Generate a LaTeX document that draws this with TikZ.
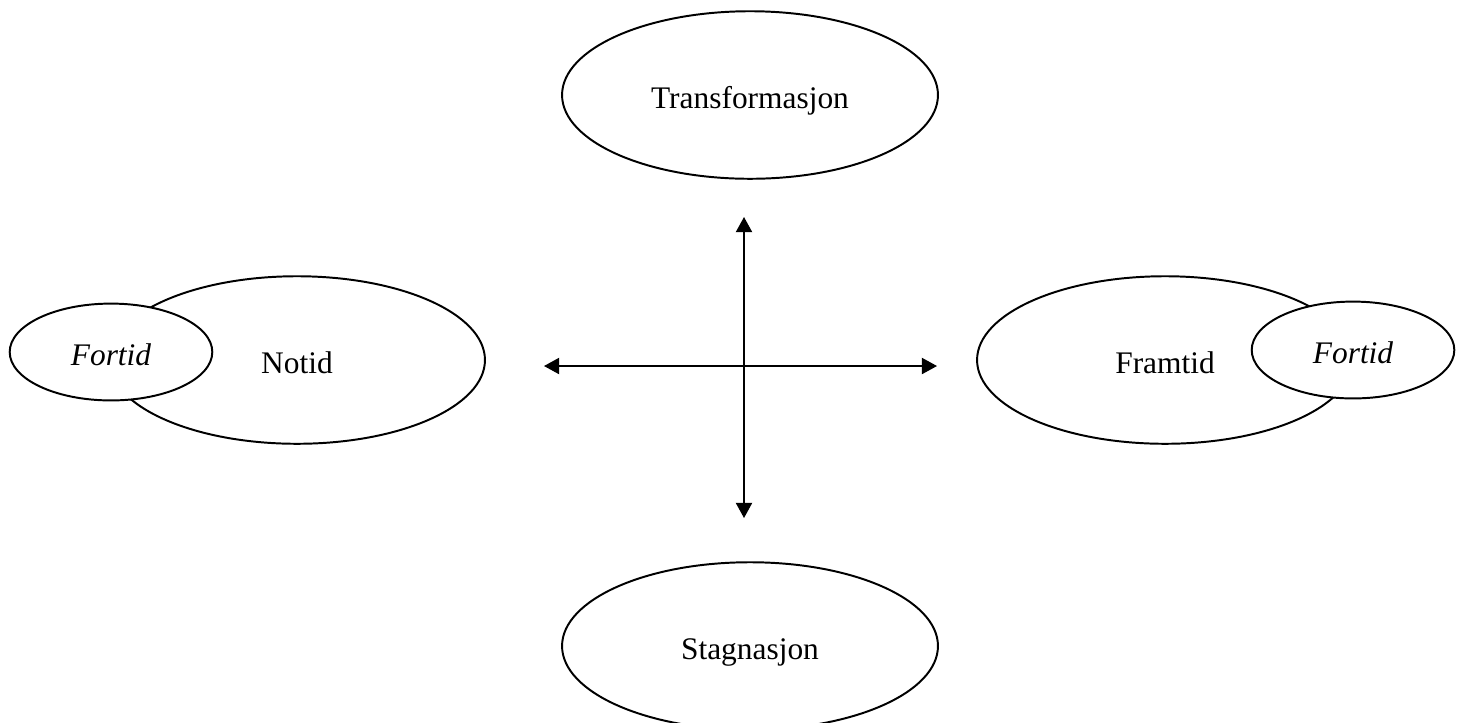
\documentclass[tikz,border=0pt]{standalone}
\usepackage{fontspec}
\setmainfont{Liberation Serif}
\usetikzlibrary{shapes,arrows.meta,positioning}

\begin{document}
\begin{tikzpicture}[x=0.382pt,y=-0.382pt,
  font=\fontsize{12}{14}\selectfont,
  bigtime/.style={ellipse,draw,line width=0.75pt,fill=white,minimum width=143.6pt,minimum height=64pt,inner sep=0pt,text height=10pt,text depth=0pt},
  smalltime/.style={ellipse,draw,line width=0.75pt,fill=white,minimum width=77.4pt,minimum height=37pt,inner sep=0pt,text height=10pt,text depth=0pt,font=\fontsize{12}{14}\selectfont\itshape},
  axis/.style={line width=0.6pt,{Triangle[length=5.8pt,width=6.2pt]}-{Triangle[length=5.8pt,width=6.2pt]}}]

\useasboundingbox (0,0) rectangle (1463,722);

\node[bigtime] (trans) at (750,95) {Transformasjon};
\node[bigtime] (stag) at (750,646) {Stagnasjon};
\node[bigtime] (notid) at (297,360) {Notid};
\node[bigtime] (framtid) at (1165,360) {Framtid};

\node[smalltime] (fortidL) at (111,352) {Fortid};
\node[smalltime] (fortidR) at (1353,350) {Fortid};

\coordinate (axleft) at (544,366);
\coordinate (axright) at (937,366);
\coordinate (axtop) at (744,217);
\coordinate (axbottom) at (744,518);

\draw[axis] (axleft)--(axright);
\draw[axis] (axtop)--(axbottom);
\end{tikzpicture}
\end{document}
